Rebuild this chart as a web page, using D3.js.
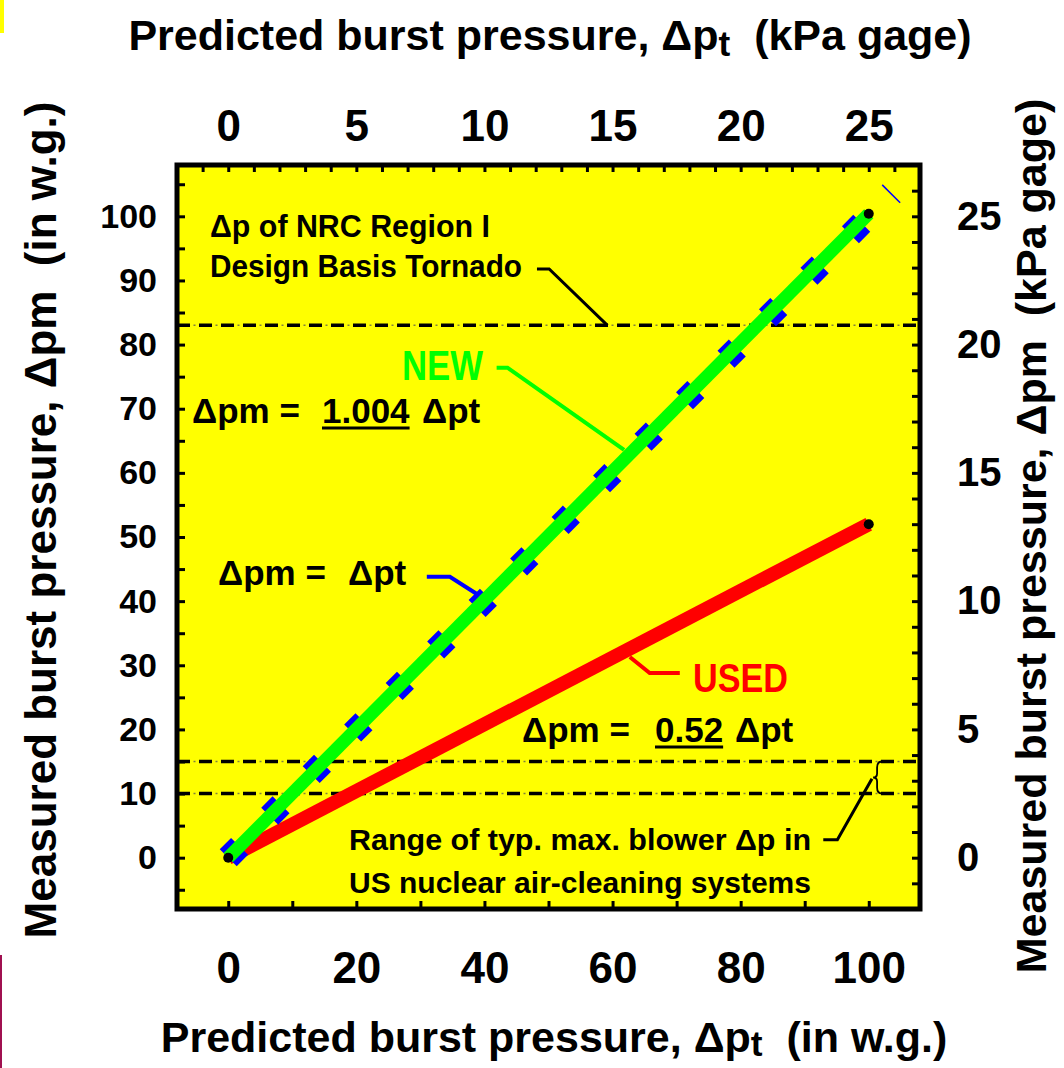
<!DOCTYPE html>
<html><head><meta charset="utf-8">
<script src="https://cdn.jsdelivr.net/npm/d3@7"></script>
<style>
html,body{margin:0;padding:0;background:#fff;}
svg text{font-family:Arial,"Liberation Sans",Helvetica,sans-serif;font-weight:bold;white-space:pre;}
</style></head><body>
<svg id="c" width="1064" height="1068"></svg>
<script>
// ---------------- data ----------------
const bottomTickLabels = [0, 20, 40, 60, 80, 100];          // in w.g.
const bottomTickMarks  = [0, 10, 20, 30, 40, 50, 60, 70, 80, 90, 100];
const leftTickLabels   = [0, 10, 20, 30, 40, 50, 60, 70, 80, 90, 100];
const leftTickMarks    = [-5, 0, 5, 10, 15, 20, 25, 30, 35, 40, 45, 50, 55, 60, 65, 70, 75, 80, 85, 90, 95, 100, 105];
const topTickLabels    = [0, 5, 10, 15, 20, 25];             // kPa
const topTickMarks     = [-1,0,1,2,3,4,5,6,7,8,9,10,11,12,13,14,15,16,17,18,19,20,21,22,23,24,25,26];
const rightTickLabels  = [0, 5, 10, 15, 20, 25];
const rightTickMarks   = [-1,0,1,2,3,4,5,6,7,8,9,10,11,12,13,14,15,16,17,18,19,20,21,22,23,24,25,26];

const predicted   = [0, 100];          // Δpt (in w.g.)
const newMeasured = [0, 100.4];        // NEW: Δpm = 1.004 Δpt
const usedMeasured= [0, 52];           // USED: Δpm = 0.52 Δpt
const idealMeasured=[0, 100];          // Δpm = Δpt
const tornadoLevel = [83];             // Δp of NRC Region I tornado
const blowerLevels = [15, 10];         // range of blower Δp

// annotation leaders (data units, in w.g.)
const newLeader     = [[41.9, 76.4], [43.6, 76.4], [61.8, 63.6]];
const idealLeader   = [[31.0, 43.8], [34.6, 43.8], [39.0, 41.0]];
const usedLeader    = [[62.7, 31.3], [65.8, 28.8], [70.5, 28.8]];
const blowerLeader  = [[92.9, 2.8], [95.1, 2.8], [100.5, 12.3]];
const tornadoLeader = [[48.2, 91.8], [50.1, 91.8], [59.2, 83.0]];
const strayMark     = [[102.1, 104.9], [104.9, 102.1]];

// ---------------- scales ----------------
const svg = d3.select('#c');
const x  = d3.scaleLinear().domain([-8, 108]).range([177, 920]);
const y  = d3.scaleLinear().domain([-8, 108]).range([909, 165]);
const xk = d3.scaleLinear().domain([-2, 27]).range([177, 920]);
const yk = d3.scaleLinear().domain([-2, 27]).range([909, 165]);
const line = d3.line().x(d => x(d[0])).y(d => y(d[1]));
const zip = (a, b) => a.map((v, i) => [v, b[i]]);

// small edge artifacts of the original image
svg.append('rect').attr('x', 0).attr('y', 0).attr('width', 4).attr('height', 33).attr('fill', '#ffff00');
svg.append('rect').attr('x', 0).attr('y', 955).attr('width', 2).attr('height', 113).attr('fill', '#a01050');

// plot background
svg.append('rect').attr('x', 177).attr('y', 165).attr('width', 743).attr('height', 744).attr('fill', '#ffff00');

// reference levels
const levels = tornadoLevel.concat(blowerLevels);
const lv = svg.append('g');
levels.forEach(v => {
  lv.append('line').attr('x1', x(-8)).attr('x2', x(108)).attr('y1', y(v)).attr('y2', y(v))
    .attr('stroke', '#000').attr('stroke-width', 3.5).attr('stroke-dasharray', '13,9');
  lv.append('line').attr('x1', x(-8)).attr('x2', x(108)).attr('y1', y(v)).attr('y2', y(v))
    .attr('stroke', '#808040').attr('stroke-width', 1.5).attr('stroke-dasharray', '2,20').attr('stroke-dashoffset', -16.5);
});

// USED line
svg.append('path').attr('d', line(zip(predicted, usedMeasured)))
  .attr('fill', 'none').attr('stroke', '#ff0000').attr('stroke-width', 14);
// ideal line (blue dashed)
svg.append('path').attr('d', line(zip(predicted, idealMeasured)))
  .attr('fill', 'none').attr('stroke', '#0000ff').attr('stroke-width', 24).attr('stroke-dasharray', '16,42.7');
// NEW line
svg.append('path').attr('d', line(zip(predicted, newMeasured)))
  .attr('fill', 'none').attr('stroke', '#00ff00').attr('stroke-width', 13);

// stray thin mark
svg.append('path').attr('d', line(strayMark)).attr('fill', 'none').attr('stroke', '#0000ff').attr('stroke-width', 1.5);

// leaders
svg.append('path').attr('d', line(newLeader)).attr('fill', 'none').attr('stroke', '#00ff00').attr('stroke-width', 4);
svg.append('path').attr('d', line(idealLeader)).attr('fill', 'none').attr('stroke', '#0000ff').attr('stroke-width', 4);
svg.append('path').attr('d', line(usedLeader)).attr('fill', 'none').attr('stroke', '#ff0000').attr('stroke-width', 4);
svg.append('path').attr('d', line(blowerLeader)).attr('fill', 'none').attr('stroke', '#000').attr('stroke-width', 3);
svg.append('path').attr('d', line(tornadoLeader)).attr('fill', 'none').attr('stroke', '#000').attr('stroke-width', 3);

// brace for blower range
{
  const bx = x(101.3), t = y(blowerLevels[0]), b = y(blowerLevels[1]), m = (t + b) / 2;
  svg.append('path')
    .attr('d', `M${bx+5},${t} Q${bx},${t} ${bx},${t+6} L${bx},${m-4} Q${bx},${m} ${bx-4},${m} Q${bx},${m} ${bx},${m+4} L${bx},${b-6} Q${bx},${b} ${bx+5},${b}`)
    .attr('fill', 'none').attr('stroke', '#000').attr('stroke-width', 1.8);
}

// end points
const pts = [[predicted[0], newMeasured[0]], [predicted[1], newMeasured[1]], [predicted[1], usedMeasured[1]]];
svg.selectAll('circle.pt').data(pts).enter().append('circle')
  .attr('cx', d => x(d[0])).attr('cy', d => y(d[1])).attr('r', 5).attr('fill', '#000');

// ---------------- annotation text ----------------
function txt(s, px, py, size, opts = {}) {
  const t = svg.append('text').attr('x', px).attr('y', py).attr('font-size', size)
    .attr('fill', opts.fill || '#000').text(s);
  if (opts.len) t.attr('textLength', opts.len).attr('lengthAdjust', 'spacingAndGlyphs');
  if (opts.anchor) t.attr('text-anchor', opts.anchor);
  return t;
}
txt('Δp of NRC Region I', 210, 237, 32, {len: 280});
txt('Design Basis Tornado', 210, 277, 32, {len: 312});
txt('NEW', 402, 380, 42, {fill: '#00ff00', len: 81});
txt('USED', 693, 692, 40, {fill: '#ff0000', len: 95});
txt('Range of typ. max. blower Δp in', 349, 850, 30, {len: 462});
txt('US nuclear air-cleaning systems', 349, 893, 30, {len: 462});

function equation(x0, xc, xr, by, coef) {
  txt('Δpm =', x0, by, 35);
  if (coef !== null) {
    const c = txt(coef, xc, by, 35);
    const w = c.node().getComputedTextLength();
    svg.append('line').attr('x1', xc).attr('x2', xc + w).attr('y1', by + 5).attr('y2', by + 5)
      .attr('stroke', '#000').attr('stroke-width', 3);
  }
  txt('Δpt', xr, by, 35);
}
equation(192, 322, 422, 423, '1.004');
equation(218, 0, 348, 585, null);
equation(522, 655, 735, 742, '0.52');

// ---------------- axes ----------------
function styleTicks(g) {
  g.select('.domain').remove();
  g.selectAll('.tick line').attr('stroke', '#000').attr('stroke-width', 3);
}
// tick marks (inside frame)
svg.append('g').attr('transform', 'translate(0,909)')
  .call(d3.axisBottom(x).tickValues(bottomTickMarks).tickSize(-8).tickFormat(''))
  .call(styleTicks);
svg.append('g').attr('transform', 'translate(177,0)')
  .call(d3.axisLeft(y).tickValues(leftTickMarks).tickSize(-8).tickFormat(''))
  .call(styleTicks);
svg.append('g').attr('transform', 'translate(0,165)')
  .call(d3.axisTop(xk).tickValues(topTickMarks).tickSize(-7).tickFormat(''))
  .call(styleTicks);
svg.append('g').attr('transform', 'translate(920,0)')
  .call(d3.axisRight(yk).tickValues(rightTickMarks).tickSize(-8).tickFormat(''))
  .call(styleTicks);

// labels
function styleLabels(g, size) {
  g.select('.domain').remove();
  g.selectAll('.tick line').remove();
  g.selectAll('.tick text').attr('font-size', size).attr('fill', '#000')
    .style('font-family', 'Arial,"Liberation Sans",sans-serif').style('font-weight', 'bold');
}
svg.append('g').attr('transform', 'translate(0,909)')
  .call(d3.axisBottom(x).tickValues(bottomTickLabels).tickSize(0).tickPadding(43).tickFormat(d3.format('d')))
  .call(g => styleLabels(g, 44));
svg.append('g').attr('transform', 'translate(0,165)')
  .call(d3.axisTop(xk).tickValues(topTickLabels).tickSize(0).tickPadding(24).tickFormat(d3.format('d')))
  .call(g => styleLabels(g, 44));
svg.append('g').attr('transform', 'translate(177,0)')
  .call(d3.axisLeft(y).tickValues(leftTickLabels).tickSize(0).tickPadding(20).tickFormat(d3.format('d')))
  .call(g => styleLabels(g, 34));
svg.append('g').attr('transform', 'translate(920,0)')
  .call(d3.axisRight(yk).tickValues(rightTickLabels).tickSize(0).tickPadding(37).tickFormat(d3.format('d')))
  .call(g => styleLabels(g, 40));

// frame
svg.append('rect').attr('x', 177).attr('y', 165).attr('width', 743).attr('height', 744)
  .attr('fill', 'none').attr('stroke', '#000').attr('stroke-width', 5);

// axis titles
function title(px, py, size, rot, parts, subDy) {
  const t = svg.append('text').attr('font-size', size).attr('text-anchor', 'middle')
    .attr('transform', `translate(${px},${py}) rotate(${rot})`);
  parts.forEach(p => {
    const s = t.append('tspan').text(p.t);
    if (p.sub) s.attr('dy', subDy).attr('font-size', size * 0.82);
    if (p.back) s.attr('dy', -subDy);
  });
  return t;
}
title(550, 50, 43, 0, [{t: 'Predicted burst pressure, Δp'}, {t: 't', sub: true}, {t: '  (kPa gage)', back: true}], 6);
title(554, 1052, 43, 0, [{t: 'Predicted burst pressure, Δp'}, {t: 't', sub: true}, {t: '  (in w.g.)', back: true}], 4);
title(56, 520, 44, -90, [{t: 'Measured burst pressure, Δpm  (in w.g.)'}], 0);
title(1046, 536, 43, -90, [{t: 'Measured burst pressure, Δpm  (kPa gage)'}], 0);
</script>
</body></html>
